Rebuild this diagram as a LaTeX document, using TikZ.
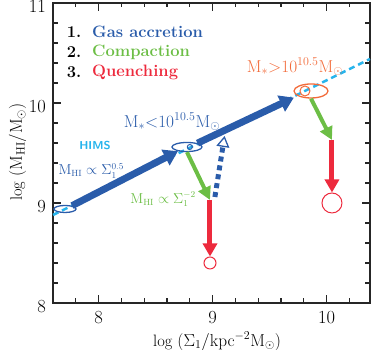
\documentclass[tikz,border=0pt]{standalone}
\usepackage{amsmath,amssymb}
\usepackage{xcolor}
\usepackage{tikz}
\usetikzlibrary{shapes.geometric,arrows.meta,positioning}
\definecolor{GALblue}{HTML}{2A5CAA}
\definecolor{GALgreen}{HTML}{6CBE45}
\definecolor{GALred}{HTML}{ED2A3D}
\definecolor{GALorange}{HTML}{F26B3A}
\definecolor{GALcyan}{HTML}{27B4EC}
\tikzset{
  axisline/.style={line width=1.2pt, black!85},
  accretion/.style={GALblue, line width=7pt, -{Triangle[length=14pt,width=17pt]}},
  compaction/.style={GALgreen, line width=4pt, -{Triangle[length=13pt,width=13pt]}},
  quench/.style={GALred, line width=5pt, -{Triangle[length=13pt,width=14pt]}},
  reaccrete/.style={GALblue, line width=5pt, dash pattern=on 5pt off 4pt,
    -{Triangle[open,length=11pt,width=13pt,line width=1.3pt]}},
  hims/.style={GALcyan, line width=2.5pt, dash pattern=on 6pt off 4pt},
  ring/.style={ellipse, draw, line width=1.3pt, inner sep=0pt},
  endring/.style={circle, draw=GALred, fill=white, line width=1pt, inner sep=0pt},
  ticklab/.style={font=\fontsize{18.5}{20}\selectfont, inner sep=0pt},
  legend/.style={anchor=west, inner sep=0pt, font=\bfseries\fontsize{16.5}{18}\selectfont}
}
\begin{document}
\begin{tikzpicture}[x=114pt, y=100pt, font=\fontsize{16.5}{18}\selectfont]
  \useasboundingbox (7.135,7.53) rectangle (10.407,11.03);
  % frame and ticks
  \draw[axisline] (7.6,8) rectangle (10.38,11);
  \foreach \i in {1,...,13} {
    \draw[axisline] ({7.6+0.2*\i},8) -- ++(0,0.045);
    \draw[axisline] ({7.6+0.2*\i},11) -- ++(0,-0.045);
  }
  \foreach \i in {1,...,14} {
    \draw[axisline] (7.6,{8+0.2*\i}) -- ++(0.04,0);
    \draw[axisline] (10.38,{8+0.2*\i}) -- ++(-0.04,0);
  }
  \foreach \x in {8,9,10} {
    \draw[axisline] (\x,8) -- ++(0,0.08);
    \draw[axisline] (\x,11) -- ++(0,-0.08);
    \node[ticklab, below=8pt] (xt\x) at (\x,8) {\x};
  }
  \foreach \y in {8,9,10,11} {
    \draw[axisline] (7.6,\y) -- ++(0.07,0);
    \draw[axisline] (10.38,\y) -- ++(-0.07,0);
    \node[ticklab, left=7pt, yshift=-3.2pt] (yt\y) at (7.6,\y) {\y};
  }
  \node (xtitle) at (9.039,7.62) {log $(\Sigma_1/\mathrm{kpc}^{-2}\mathrm{M}_{\odot})$};
  \node[rotate=90] (ytitle) at (7.29,9.51) {log $(\mathrm{M}_{\mathrm{HI}}/\mathrm{M}_{\odot})$};

  % legend
  \node[legend] (n1) at (7.72,10.71) {1.};
  \node[legend, text=GALblue] (l1) at (7.942,10.71) {Gas accretion};
  \node[legend] (n2) at (7.72,10.51) {2.};
  \node[legend, text=GALgreen] (l2) at (7.942,10.51) {Compaction};
  \node[legend] (n3) at (7.72,10.31) {3.};
  \node[legend, text=GALred] (l3) at (7.942,10.31) {Quenching};

  % HIMS relation
  \coordinate (h0) at (7.6,8.88);
  \coordinate (h1) at (10.38,10.44);
  \draw[hims] (h0) -- (h1);

  % stages
  \node[ring, GALblue, minimum width=22pt, minimum height=7pt] (e1) at (7.705,8.94) {};
  \node[ring, GALblue, minimum width=30pt, minimum height=9pt] (e2) at (8.775,9.56) {};
  \node[circle, draw=GALblue, line width=1pt, minimum size=5pt, inner sep=0pt] (c2dot) at (8.80,9.56) {};
  \node[ring, GALorange, minimum width=34pt, minimum height=14pt] (e3) at (9.863,10.12) {};
  \node[circle, draw=GALorange, line width=1pt, minimum size=10pt, inner sep=0pt] (c3dot) at (9.81,10.12) {};

  \coordinate (c1) at (8.977,9.03);
  \coordinate (c2) at (10.047,9.63);
  \node[endring, minimum size=12pt] (q1) at (8.977,8.40) {};
  \node[endring, minimum size=20pt] (q2) at (10.047,9.00) {};
  \coordinate (d1) at (9.02,9.06);
  \coordinate (d2) at (9.105,9.67);

  \draw[accretion] (e1.25) -- (e2.205);
  \draw[accretion, shorten >=4pt] (e2.20) -- (e3.200);
  \draw[compaction] (e2.south) -- (c1);
  \draw[compaction] (e3.south) -- (c2);
  \draw[quench] (c1) -- (q1.north);
  \draw[quench] (c2) -- (q2.north);
  \draw[reaccrete] (d1) -- (d2);

  % labels
  \node[text=GALblue] (mlow) at (8.644,9.81) {$\mathrm{M}_{*}{<}10^{10.5}\mathrm{M}_{\odot}$};
  \node[text=GALorange] (mhigh) at (9.723,10.36) {$\mathrm{M}_{*}{>}10^{10.5}\mathrm{M}_{\odot}$};
  \node[text=GALcyan, font=\sffamily\bfseries\fontsize{11.5}{13}\selectfont] (himslab) at (7.968,9.57) {HIMS};
  \node[text=GALblue, font=\fontsize{13.5}{15}\selectfont] (slope1) at (7.935,9.32) {$\mathrm{M}_{\mathrm{HI}}\propto\Sigma_1^{0.5}$};
  \node[text=GALgreen, font=\fontsize{13.5}{15}\selectfont] (slope2) at (8.565,9.04) {$\mathrm{M}_{\mathrm{HI}}\propto\Sigma_1^{-2}$};
\end{tikzpicture}
\end{document}
